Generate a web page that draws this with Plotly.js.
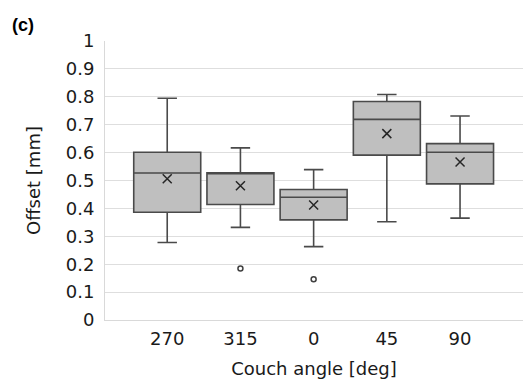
<!DOCTYPE html>
<html>
<head>
<meta charset="utf-8">
<script src="https://cdn.plot.ly/plotly-3.0.1.min.js"></script>
<style>html,body{margin:0;padding:0;background:#fff;}#chart{width:525px;height:384px;}</style>
</head>
<body>
<div id="chart"></div>
<script>
const categories = ["270", "315", "0", "45", "90"];
const lowerWhisker = [0.278, 0.332, 0.263, 0.352, 0.365];
const q1Values = [0.386, 0.414, 0.359, 0.591, 0.488];
const medianValues = [0.527, 0.525, 0.440, 0.719, 0.601];
const q3Values = [0.601, 0.528, 0.468, 0.783, 0.632];
const upperWhisker = [0.795, 0.617, 0.539, 0.808, 0.731];
const meanValues = [0.506, 0.481, 0.412, 0.668, 0.566];
const outlierCats = ["315", "0"];
const outlierValues = [0.185, 0.146];

const font = "DejaVu Sans, Verdana, sans-serif";

const traces = [
  {
    type: "box",
    x: categories,
    q1: q1Values,
    median: medianValues,
    q3: q3Values,
    lowerfence: lowerWhisker,
    upperfence: upperWhisker,
    width: 0.915,
    whiskerwidth: 0.29,
    fillcolor: "#bfbfbf",
    line: {color: "#4a4a4a", width: 1.6},
    boxpoints: false,
    hoverinfo: "skip",
    showlegend: false
  },
  {
    type: "scatter",
    mode: "markers",
    x: categories,
    y: meanValues,
    marker: {symbol: "x-thin", size: 9, line: {color: "#262626", width: 1.5}},
    hoverinfo: "skip",
    showlegend: false
  },
  {
    type: "scatter",
    mode: "markers",
    x: outlierCats,
    y: outlierValues,
    marker: {symbol: "circle-open", size: 5, color: "#404040", line: {color: "#404040", width: 1.5}},
    hoverinfo: "skip",
    showlegend: false
  }
];

const layout = {
  width: 525,
  height: 384,
  margin: {l: 105, r: 2, t: 41, b: 64},
  paper_bgcolor: "#ffffff",
  plot_bgcolor: "#ffffff",
  showlegend: false,
  font: {family: font, size: 18, color: "#1a1a1a"},
  xaxis: {
    type: "category",
    categoryorder: "array",
    categoryarray: categories,
    range: [-0.85, 4.86],
    showgrid: false,
    showline: true,
    linecolor: "#d9d9d9",
    linewidth: 1,
    ticks: "",
    ticklabelstandoff: 2,
    tickfont: {family: font, size: 18, color: "#1a1a1a"},
    title: {text: "Couch angle [deg]", font: {family: font, size: 18, color: "#1a1a1a"}, standoff: 14}
  },
  yaxis: {
    range: [0, 1],
    dtick: 0.1,
    tick0: 0,
    showgrid: true,
    gridcolor: "#dedede",
    gridwidth: 1,
    zeroline: false,
    showline: true,
    linecolor: "#d9d9d9",
    linewidth: 1,
    ticks: "",
    ticklabelstandoff: 6,
    tickfont: {family: font, size: 18, color: "#1a1a1a"},
    title: {text: "Offset [mm]", font: {family: font, size: 18, color: "#1a1a1a"}, standoff: 20}
  },
  annotations: [
    {
      text: "<b>(c)</b>",
      xref: "paper", yref: "paper",
      x: (10 - 105) / 418, y: (320 - 13) / 279,
      xanchor: "left", yanchor: "top",
      showarrow: false,
      font: {family: "Liberation Sans, Arial, sans-serif", size: 18, color: "#000"}
    }
  ]
};

Plotly.newPlot("chart", traces, layout, {displayModeBar: false, staticPlot: true});
</script>
</body>
</html>
